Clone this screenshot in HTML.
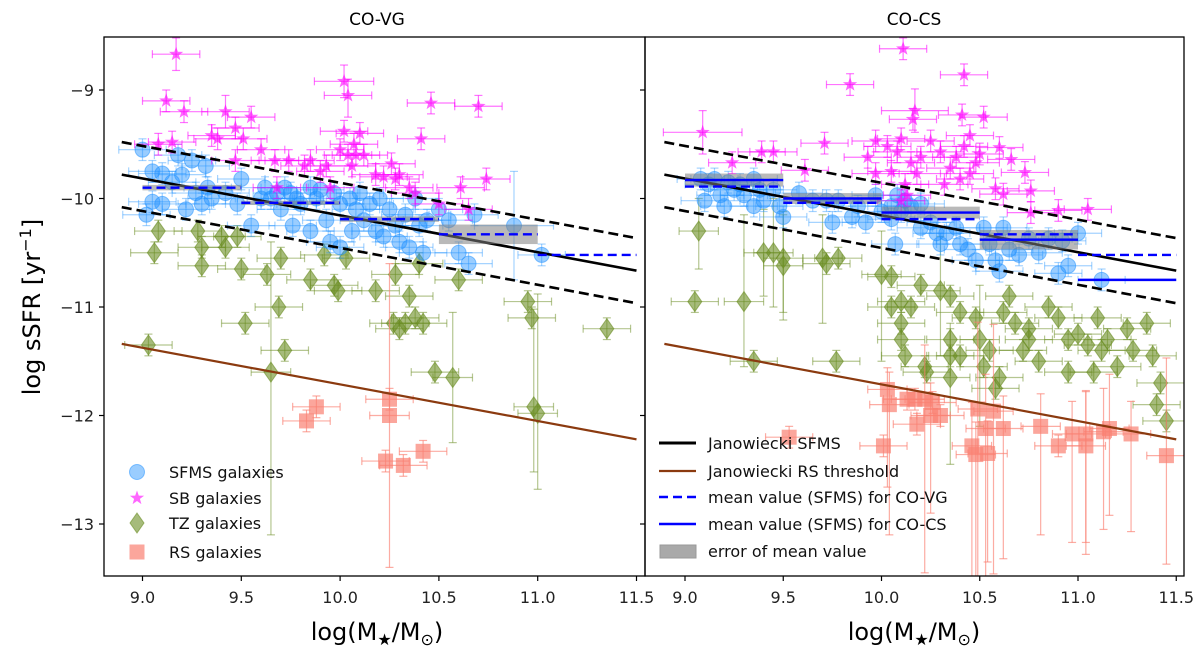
<!DOCTYPE html>
<html><head><meta charset="utf-8"><style>
body{margin:0;background:#fff}
svg text{font-family:"DejaVu Sans","Liberation Sans",sans-serif}
</style></head><body>
<svg id="c" width="1200" height="657" viewBox="0 0 1200 657" xmlns="http://www.w3.org/2000/svg">
<defs>
<clipPath id="clipL"><rect x="104" y="37" width="541" height="539"/></clipPath>
<clipPath id="clipR"><rect x="645" y="37" width="539" height="539"/></clipPath>
</defs>
<g id="gL" clip-path="url(#clipL)"></g>
<g id="gR" clip-path="url(#clipR)"></g>
<g id="axes"></g>
</svg>
<script>
// ---- data: [x, logsSFR, xerr, yerrLow, yerrHigh] ----
const xTicks=[9.0,9.5,10.0,10.5,11.0,11.5];
const xTickLabels=["9.0","9.5","10.0","10.5","11.0","11.5"];
const yTicks=[-9,-10,-11,-12,-13];
const yTickLabels=["\u22129","\u221210","\u221211","\u221212","\u221213"];
const sfmsLine=[[8.895,-9.78],[11.5,-10.665]];
const sfmsScatter=0.3;
const rsLine=[[8.895,-11.34],[11.5,-12.22]];
const binEdges=[9.0,9.5,10.0,10.5,11.0,11.5];
const meanVG=[-9.90,-10.04,-10.19,-10.33,-10.52];
const errVG=[0.025,0.02,0.025,0.09,0];
const meanCS=[-9.83,-10.00,-10.13,-10.38,-10.75];
const meanVGinCS=[-9.89,-10.04,-10.19,-10.33,-10.52];
const errCS=[0.06,0.05,0.055,0.09,0];

const L_SB=[[9.17,-8.67,0.12,0.15,0.15],[9.12,-9.1],[9.21,-9.2],[9.42,-9.2,0.12,0.15,0.15],[9.55,-9.25],[9.47,-9.35],[9.35,-9.42],[9.38,-9.45],[9.08,-9.5],[9.15,-9.48],[9.51,-9.45],[9.6,-9.55],[9.47,-9.65],[9.67,-9.65],[9.74,-9.65],[9.85,-9.65],[9.9,-9.75],[9.93,-9.7],[10.0,-9.55],[10.02,-8.92,0.15,0.15,0.15],[10.04,-9.05,0.12,0.2,0.15],[10.02,-9.38],[10.07,-9.5],[10.1,-9.4],[10.08,-9.6],[10.12,-9.6],[10.04,-9.6],[10.06,-9.7],[10.18,-9.78],[10.22,-9.8],[10.28,-9.82],[10.3,-9.78],[10.46,-9.12],[10.7,-9.15],[10.41,-9.45],[10.26,-9.68],[10.35,-9.9],[10.38,-9.95],[10.5,-10.05],[10.74,-9.82],[10.61,-9.9],[10.65,-10.1],[9.82,-9.7],[9.68,-9.9],[9.95,-9.9]];
const L_SFMS=[[9.0,-9.55],[9.05,-9.75],[9.1,-9.77],[9.18,-9.6],[9.2,-9.78],[9.15,-9.85],[9.05,-10.03],[9.1,-10.05],[9.02,-10.15],[9.25,-9.65],[9.32,-9.7],[9.33,-9.9],[9.27,-9.95],[9.35,-10.0],[9.3,-10.05],[9.22,-10.1],[9.42,-9.95],[9.5,-9.82],[9.48,-10.05],[9.55,-10.25],[9.6,-10.0],[9.62,-9.9],[9.65,-10.0],[9.68,-9.95],[9.72,-9.9],[9.75,-9.95],[9.78,-10.0],[9.8,-10.05],[9.76,-10.25],[9.85,-9.9],[9.88,-10.0],[9.9,-9.92],[9.93,-10.2],[9.97,-9.95],[10.0,-10.05],[9.95,-10.4],[10.0,-10.45],[10.05,-10.0],[10.08,-10.1],[10.1,-9.95],[10.12,-10.2],[10.15,-10.05],[10.18,-10.3],[10.2,-10.0],[10.22,-10.35],[10.25,-10.1],[10.28,-10.25],[10.3,-10.4],[10.33,-10.15],[10.35,-10.45],[10.38,-10.0],[10.4,-10.25],[10.42,-10.5],[10.44,-10.2],[10.5,-10.1],[10.55,-10.2],[10.65,-10.6],[10.68,-10.15],[10.88,-10.25,0.2,0.5,0.5],[11.02,-10.52],[10.6,-10.5],[10.06,-10.3],[9.85,-10.3],[9.7,-10.1]];
const L_TZ=[[9.03,-11.35],[9.08,-10.3],[9.06,-10.5],[9.28,-10.3],[9.3,-10.45],[9.3,-10.62],[9.4,-10.35],[9.42,-10.45],[9.48,-10.35],[9.5,-10.65],[9.52,-11.15],[9.63,-10.7],[9.65,-11.6,0.1,1.5,1.2],[9.69,-11.0],[9.72,-11.4],[9.7,-10.55],[9.85,-10.75],[9.92,-10.52],[9.97,-10.8],[9.99,-10.85],[10.03,-10.55],[10.18,-10.85],[10.27,-11.15],[10.3,-11.2],[10.33,-11.15],[10.38,-11.1],[10.42,-11.15],[10.35,-10.9],[10.28,-10.7],[10.48,-11.6],[10.57,-11.65,0.1,0.6,0.6],[10.6,-10.75],[10.95,-10.95],[10.97,-11.1],[11.35,-11.2],[11.0,-11.98,0.1,0.7,1.1],[10.98,-11.92,0.1,0.6,0.9],[10.4,-10.6]];
const L_RS=[[9.83,-12.05],[9.88,-11.92],[10.25,-11.85],[10.25,-12.0,0.1,1.4,1.4],[10.23,-12.42],[10.32,-12.46],[10.42,-12.33]];

const R_SB=[[10.11,-8.62],[9.84,-8.95],[10.42,-8.86],[10.17,-9.19,0.17,0.2,0.2],[10.16,-9.27],[9.09,-9.39,0.2,0.2,0.2],[9.39,-9.57],[9.45,-9.57],[9.71,-9.49],[9.61,-9.74],[9.24,-9.67],[10.41,-9.23],[10.52,-9.25],[11.05,-10.1],[10.9,-10.11],[10.76,-10.13],[10.76,-9.93],[10.73,-9.76],[10.66,-9.64],[10.62,-9.96],[10.58,-9.91],[10.6,-9.53],[10.03,-9.52],[10.08,-9.57],[10.1,-9.45],[10.15,-9.67],[10.2,-9.62],[10.25,-9.47],[10.3,-9.57],[10.35,-9.72],[10.38,-9.62],[10.42,-9.52],[10.45,-9.77],[10.48,-9.67],[10.5,-9.59],[10.4,-9.82],[10.32,-9.87],[10.18,-9.77],[9.93,-9.62],[9.97,-9.77],[10.05,-9.75],[10.12,-9.87],[10.13,-9.97],[10.1,-10.02],[10.45,-9.42],[9.97,-9.47]];
const R_SFMS=[[9.08,-9.82],[9.12,-9.87],[9.15,-9.82],[9.18,-9.97],[9.22,-9.85],[9.25,-9.92],[9.28,-9.87],[9.3,-9.97],[9.35,-9.82],[9.38,-9.92],[9.4,-10.02],[9.45,-9.92],[9.48,-10.07],[9.1,-10.02],[9.2,-10.07],[9.35,-10.07],[9.5,-10.17],[9.58,-9.95],[9.65,-10.02],[9.72,-10.02],[9.75,-10.22],[9.78,-10.02],[9.85,-10.17],[9.88,-10.07],[9.92,-10.22],[9.97,-9.97],[10.0,-10.12],[10.05,-10.07],[10.08,-9.97],[10.1,-10.12],[10.12,-10.02],[10.15,-10.07],[10.2,-10.05],[10.25,-10.22],[10.28,-10.32],[10.3,-10.42],[10.33,-10.32],[10.38,-10.27],[10.4,-10.42],[10.44,-10.47],[10.48,-10.57],[10.52,-10.27],[10.55,-10.42],[10.58,-10.57],[10.62,-10.27],[10.65,-10.47],[10.7,-10.52],[10.75,-10.37],[10.8,-10.5],[10.85,-10.37],[10.9,-10.69],[10.92,-10.39],[10.95,-10.62],[11.0,-10.32],[11.12,-10.75],[10.07,-10.42],[10.2,-10.27],[10.05,-10.19],[10.6,-10.67]];
const R_TZ=[[9.07,-10.3,0.1,0.35,0.3],[9.05,-10.95],[9.3,-10.95,0.1,0.6,0.8],[9.35,-11.5],[9.4,-10.5,0.1,0.4,0.4],[9.45,-10.5,0.1,0.5,0.5],[9.5,-10.55,0.1,0.5,0.4],[9.5,-10.62,0.1,0.5,0.5],[9.7,-10.55,0.1,0.6,0.4],[9.72,-10.6],[9.78,-10.55],[9.77,-11.5],[10.0,-10.7,0.1,0.8,0.4],[10.05,-10.72],[10.05,-11.0],[10.1,-10.95],[10.1,-11.15],[10.1,-11.3],[10.12,-11.45],[10.22,-11.55],[10.23,-11.6],[10.3,-10.85,0.1,0.6,0.5],[10.35,-10.9],[10.35,-11.3],[10.35,-11.45],[10.35,-11.65,0.1,0.8,0.5],[10.4,-11.45],[10.5,-11.3,0.1,0.8,0.5],[10.52,-11.55],[10.55,-11.4],[10.6,-11.65],[10.58,-11.75],[10.62,-11.05],[10.68,-11.15],[10.72,-11.4],[10.75,-11.3],[10.8,-11.5],[10.75,-11.2],[10.85,-11.0],[10.9,-11.1],[10.95,-11.3],[11.0,-11.25],[11.05,-11.35],[11.08,-11.6],[11.12,-11.4],[11.15,-11.3],[11.2,-11.55],[11.25,-11.2],[11.28,-11.4],[11.35,-11.15],[11.38,-11.45],[11.42,-11.7],[11.4,-11.9],[11.45,-12.05],[10.4,-11.05],[10.95,-11.6],[11.1,-11.1],[10.65,-10.9],[10.48,-11.1],[10.2,-10.8],[10.15,-11.0]];
const R_RS=[[10.03,-11.76,0.1,0.9,0.2],[10.04,-11.9,0.1,1.2,0.3],[10.13,-11.85],[10.17,-11.85],[10.22,-11.85,0.1,1.6,0.5],[10.26,-11.88],[10.25,-12.0,0.1,0.9,0.3],[10.3,-12.0],[10.18,-12.08],[10.49,-11.94,0.1,1.6,0.8],[10.57,-11.96,0.1,1.5,0.8],[10.53,-12.12,0.1,1.5,0.5],[10.62,-12.12,0.1,1.2,0.3],[10.81,-12.1,0.1,1.0,0.3],[10.97,-12.17,0.1,1.0,0.3],[11.04,-12.17,0.1,1.0,0.4],[11.13,-12.15,0.1,0.9,0.4],[11.16,-12.12,0.1,0.8,0.5],[11.27,-12.17,0.1,0.9,0.3],[11.04,-12.28,0.1,1.0,0.5],[10.9,-12.28],[10.46,-12.28,0.1,1.2,0.4],[10.48,-12.36,0.1,1.2,0.3],[10.54,-12.35,0.1,1.0,0.3],[10.01,-12.28],[9.53,-12.2],[11.45,-12.37,0.1,1.0,0.9]];

const NS="http://www.w3.org/2000/svg";
const Y=v=>90+(-9-v)*108.5;
const xL=v=>142.5+(v-9)*197.6;
const xR=v=>685+(v-9)*196.5;
function mk(tag,attrs,parent){const e=document.createElementNS(NS,tag);for(const k in attrs)e.setAttribute(k,attrs[k]);parent.appendChild(e);return e;}

const styles={
 sfms:{c:"#1e90ff",op:0.45,eop:0.4},
 sb:{c:"#ff00ff",op:0.6,eop:0.55},
 tz:{c:"#6b8e23",op:0.6,eop:0.5},
 rs:{c:"#fa8072",op:0.7,eop:0.65}
};
function marker(kind,cx,cy,g){
 const s=styles[kind];let e;
 if(kind==="sfms") e=mk("circle",{cx,cy,r:7.5,fill:s.c,"fill-opacity":s.op,stroke:s.c,"stroke-opacity":0.5},g);
 else if(kind==="sb"){let p=[];for(let i=0;i<10;i++){const r=i%2?3:7.5,a=-Math.PI/2+i*Math.PI/5;p.push((cx+r*Math.cos(a)).toFixed(1)+","+(cy+r*Math.sin(a)).toFixed(1));}
  e=mk("polygon",{points:p.join(" "),fill:s.c,"fill-opacity":s.op},g);}
 else if(kind==="tz") e=mk("polygon",{points:`${cx},${cy-10} ${cx+7},${cy} ${cx},${cy+10} ${cx-7},${cy}`,fill:s.c,"fill-opacity":s.op,stroke:s.c,"stroke-opacity":0.6},g);
 else e=mk("rect",{x:cx-7.5,y:cy-7.5,width:15,height:15,fill:s.c,"fill-opacity":s.op},g);
 return e;
}
function series(data,kind,X,g,name){
 const s=styles[kind];
 const sg=mk("g",{},g);
 
 
 data.forEach(d=>{
  const xe=d[2]!==undefined?d[2]:0.12, lo=d[3]!==undefined?d[3]:0.1, hi=d[4]!==undefined?d[4]:0.1;
  const cx=X(d[0]),cy=Y(d[1]);
  const eg=mk("g",{stroke:s.c,"stroke-opacity":s.eop,"stroke-width":1.2},sg);
  const x1=X(d[0]-xe),x2=X(d[0]+xe),y1=Y(d[1]+hi),y2=Y(d[1]-lo);
  mk("line",{x1,y1:cy,x2,y2:cy},eg);mk("line",{x1:cx,y1,x2:cx,y2},eg);
  mk("line",{x1,y1:cy-4,x2:x1,y2:cy+4},eg);mk("line",{x1:x2,y1:cy-4,x2,y2:cy+4},eg);
  mk("line",{x1:cx-4,y1,x2:cx+4,y2:y1},eg);mk("line",{x1:cx-4,y1:y2,x2:cx+4,y2},eg);
  const m=marker(kind,cx,cy,sg);
  
  
 });
}
function refLines(X,g){
 const [a,b]=sfmsLine;
 const l1=mk("line",{x1:X(a[0]),y1:Y(a[1]),x2:X(b[0]),y2:Y(b[1]),stroke:"#000","stroke-width":2.6},g);
 
 
 [sfmsScatter,-sfmsScatter].forEach(o=>{
  const l=mk("line",{x1:X(a[0]),y1:Y(a[1]+o),x2:X(b[0]),y2:Y(b[1]+o),stroke:"#000","stroke-width":2.6,"stroke-dasharray":"10,5"},g);
  
  
 });
 const [c,d]=rsLine;
 const l2=mk("line",{x1:X(c[0]),y1:Y(c[1]),x2:X(d[0]),y2:Y(d[1]),stroke:"#8b3a0f","stroke-width":2.2},g);
 
 
}
function meanBars(X,g,means,errs,dashedMeans,solid){
 for(let i=0;i<means.length;i++){
  const x1=X(binEdges[i]),x2=X(binEdges[i+1]);
  if(errs[i]>0){const r=mk("rect",{x:x1,y:Y(means[i]+errs[i]),width:x2-x1,height:Y(means[i]-errs[i])-Y(means[i]+errs[i]),fill:"#808080","fill-opacity":0.55},g);
   
   }
  if(dashedMeans){const l=mk("line",{x1,y1:Y(dashedMeans[i]),x2,y2:Y(dashedMeans[i]),stroke:"#0000ff","stroke-width":2.4,"stroke-dasharray":"9,5"},g);
   
   }
  if(solid){const l=mk("line",{x1,y1:Y(means[i]),x2,y2:Y(means[i]),stroke:"#0000ff","stroke-width":2.4},g);
   
   }
 }
}
const gL=document.getElementById("gL"),gR=document.getElementById("gR");
series(L_TZ,"tz",xL,gL,"left-tz-series");
series(L_RS,"rs",xL,gL,"left-rs-series");
series(L_SFMS,"sfms",xL,gL,"left-sfms-series");
series(L_SB,"sb",xL,gL,"left-sb-series");
refLines(xL,gL);
meanBars(xL,gL,meanVG,errVG,meanVG,false);
series(R_TZ,"tz",xR,gR,"right-tz-series");
series(R_RS,"rs",xR,gR,"right-rs-series");
series(R_SFMS,"sfms",xR,gR,"right-sfms-series");
series(R_SB,"sb",xR,gR,"right-sb-series");
refLines(xR,gR);
meanBars(xR,gR,meanCS,errCS,meanVGinCS,true);

// axes
const ax=document.getElementById("axes");
function txt(x,y,s,attrs,name){const t=mk("text",Object.assign({x,y},attrs),ax);t.textContent=s;
 
 return t;}
const f1=mk("rect",{x:104,y:37,width:541,height:539,fill:"none",stroke:"#000","stroke-width":1.3},ax);


const f2=mk("rect",{x:645,y:37,width:539,height:539,fill:"none",stroke:"#000","stroke-width":1.3},ax);


xTicks.forEach((v,i)=>{
 [xL,xR].forEach(X=>{
  mk("line",{x1:X(v),y1:576,x2:X(v),y2:581,stroke:"#000","stroke-width":1.2},ax);
  txt(X(v),603,xTickLabels[i],{"font-size":16,"text-anchor":"middle",fill:"#222"},"x-tick-label");
 });
});
yTicks.forEach((v,i)=>{
 mk("line",{x1:99,y1:Y(v),x2:104,y2:Y(v),stroke:"#000","stroke-width":1.2},ax);
 mk("line",{x1:640,y1:Y(v),x2:645,y2:Y(v),stroke:"#000","stroke-width":1.2},ax);
 txt(94,Y(v)+6,yTickLabels[i],{"font-size":16,"text-anchor":"end",fill:"#222"},"y-tick-label");
});
txt(377,25,"CO-VG",{"font-size":17,"text-anchor":"middle"},"left-panel-title");
txt(914,25,"CO-CS",{"font-size":17,"text-anchor":"middle"},"right-panel-title");
const yl=txt(0,0,"",{"font-size":24,"text-anchor":"middle",transform:"translate(40,307) rotate(-90)"},"y-axis-title");
yl.innerHTML='log sSFR [yr<tspan dy="-9" font-size="16">\u22121</tspan><tspan dy="9">]</tspan>';
[377,914].forEach(cx=>{
 const t=txt(cx,640,"",{"font-size":24,"text-anchor":"middle"},"x-axis-title");
 t.innerHTML='log(M<tspan dy="5" font-size="16">\u2605</tspan><tspan dy="-5">/M</tspan><tspan dy="5" font-size="16">\u2299</tspan><tspan dy="-5">)</tspan>';
});
// left legend
const legL=[["sfms","SFMS galaxies",472],["sb","SB galaxies",498],["tz","TZ galaxies",523],["rs","RS galaxies",552]];
legL.forEach(e=>{
 const m=marker(e[0],137,e[2],ax);
 
 
 txt(169,e[2]+6,e[1],{"font-size":16,fill:"#111"},"legend-entry");
});
// right legend
const legR=[["#000","","Janowiecki SFMS",443,3],["#8b3a0f","","Janowiecki RS threshold",471,2.2],["#0000ff","9,5","mean value (SFMS) for CO-VG",497,2.6],["#0000ff","","mean value (SFMS) for CO-CS",524,2.6]];
legR.forEach(e=>{
 const l=mk("line",{x1:659,y1:e[3],x2:696,y2:e[3],stroke:e[0],"stroke-width":e[4],"stroke-dasharray":e[1]||"none"},ax);
 
 
 txt(708,e[3]+6,e[2],{"font-size":16,fill:"#111"},"legend-entry");
});
const lb=mk("rect",{x:660,y:545,width:36,height:13,fill:"#a9a9a9",stroke:"#999"},ax);


txt(708,557,"error of mean value",{"font-size":16,fill:"#111"},"legend-entry");
</script>
</body></html>
